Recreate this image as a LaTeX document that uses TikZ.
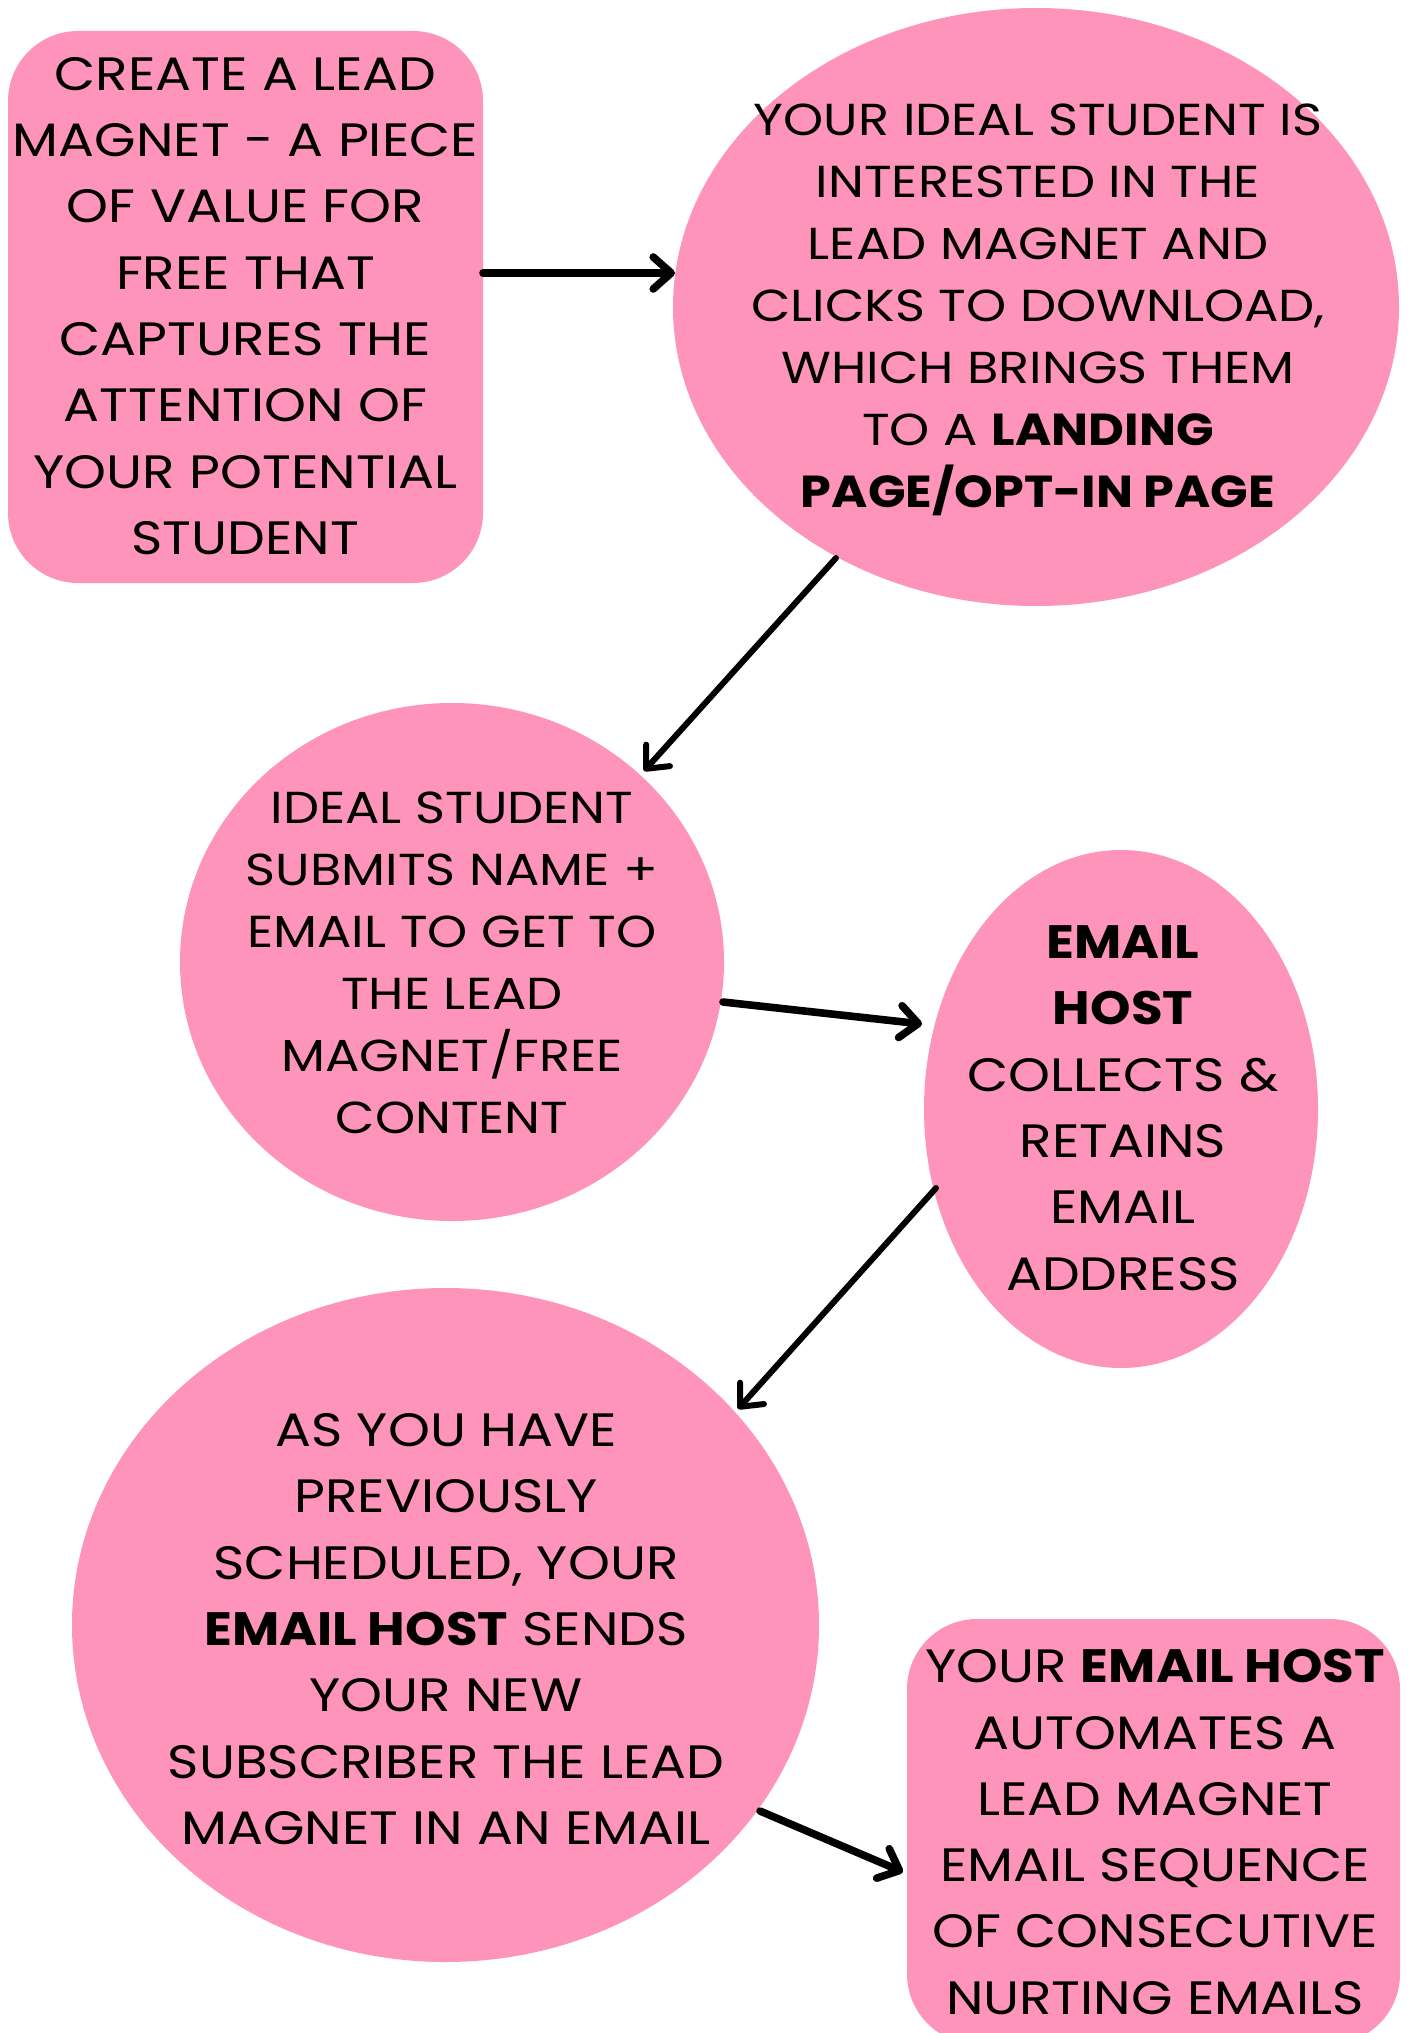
\documentclass[tikz,border=0pt]{standalone}
\usepackage{fontspec}
\setmainfont{Poppins}[FakeStretch=1.14,BoldFeatures={FakeStretch=1.1}]
\usetikzlibrary{arrows.meta,shapes.geometric,calc}
\definecolor{pinkc}{RGB}{254,148,185}
\begin{document}
\begin{tikzpicture}[x=0.5pt,y=-0.5pt,
  blob/.style={ellipse,fill=pinkc,draw=none,inner sep=0pt,outer sep=0pt},
  rbox/.style={rectangle,rounded corners=35pt,fill=pinkc,draw=none,inner sep=0pt,outer sep=0pt},
  txt/.style={align=center,inner sep=0pt,font=\fontsize{23.4pt}{33.15pt}\selectfont},
  txtsmall/.style={align=center,inner sep=0pt,font=\fontsize{22.4pt}{31.05pt}\selectfont},
  arrthick/.style={line width=3.8pt,line cap=round,-{Straight Barb[round,length=9pt,width=16pt]}},
  arrthin/.style={line width=3pt,line cap=round,-{Straight Barb[round,length=9pt,width=16pt]}}]
\useasboundingbox (0,0) rectangle (1411,2033);
% shapes
\node[rbox,minimum width=237.5pt,minimum height=276pt] (b1) at (245.5,307) {};
\node[blob,minimum width=363pt,minimum height=299pt] (e1) at (1036,307) {};
\node[blob,minimum width=272pt,minimum height=259pt] (e2) at (452,962) {};
\node[blob,minimum width=197pt,minimum height=259pt] (e3) at (1121,1109) {};
\node[blob,minimum width=373.5pt,minimum height=337pt] (e4) at (445.5,1625) {};
\node[rbox,minimum width=246.5pt,minimum height=212.5pt] (b2) at (1153.5,1831.5) {};
% texts
\node[txt] (t1) at (245.5,306) {CREATE A LEAD\\MAGNET - A PIECE\\OF VALUE FOR\\FREE THAT\\CAPTURES THE\\ATTENTION OF\\YOUR POTENTIAL\\STUDENT};
\node[txtsmall] (t2) at (1038,310) {YOUR IDEAL STUDENT IS\\INTERESTED IN THE\\LEAD MAGNET AND\\CLICKS TO DOWNLOAD,\\WHICH BRINGS THEM\\TO A \textbf{LANDING}\\\textbf{PAGE/OPT-IN PAGE}};
\node[txtsmall] (t3) at (452,963) {IDEAL STUDENT\\SUBMITS NAME +\\EMAIL TO GET TO\\THE LEAD\\MAGNET/FREE\\CONTENT};
\node[txt] (t4) at (1123,1108) {\textbf{EMAIL}\\\textbf{HOST}\\COLLECTS \&\\RETAINS\\EMAIL\\ADDRESS};
\node[txt] (t5) at (446,1629) {AS YOU HAVE\\PREVIOUSLY\\SCHEDULED, YOUR\\\textbf{EMAIL HOST} SENDS\\YOUR NEW\\SUBSCRIBER THE LEAD\\MAGNET IN AN EMAIL};
\node[txt] (t6) at (1155,1832) {YOUR \textbf{EMAIL HOST}\\AUTOMATES A\\LEAD MAGNET\\EMAIL SEQUENCE\\OF CONSECUTIVE\\NURTING EMAILS};
% connectors
\draw[arrthick] ($(b1.east)+(0,-34)$) -- ($(e1.center)+(-361,-34)$);
\draw[arrthin] ($(e1.center)+(-200,251)$) -- ($(e2.center)+(192,-191)$);
\draw[arrthick] ($(e2.center)+(271,40)$) -- ($(e3.center)+(-199,-85)$);
\draw[arrthin] ($(e3.center)+(-185,79)$) -- ($(e4.center)+(292.5,-216)$);
\draw[arrthick] ($(e4.center)+(314.5,186)$) -- ($(b2.west)+(-4,40.5)$);
\end{tikzpicture}
\end{document}
